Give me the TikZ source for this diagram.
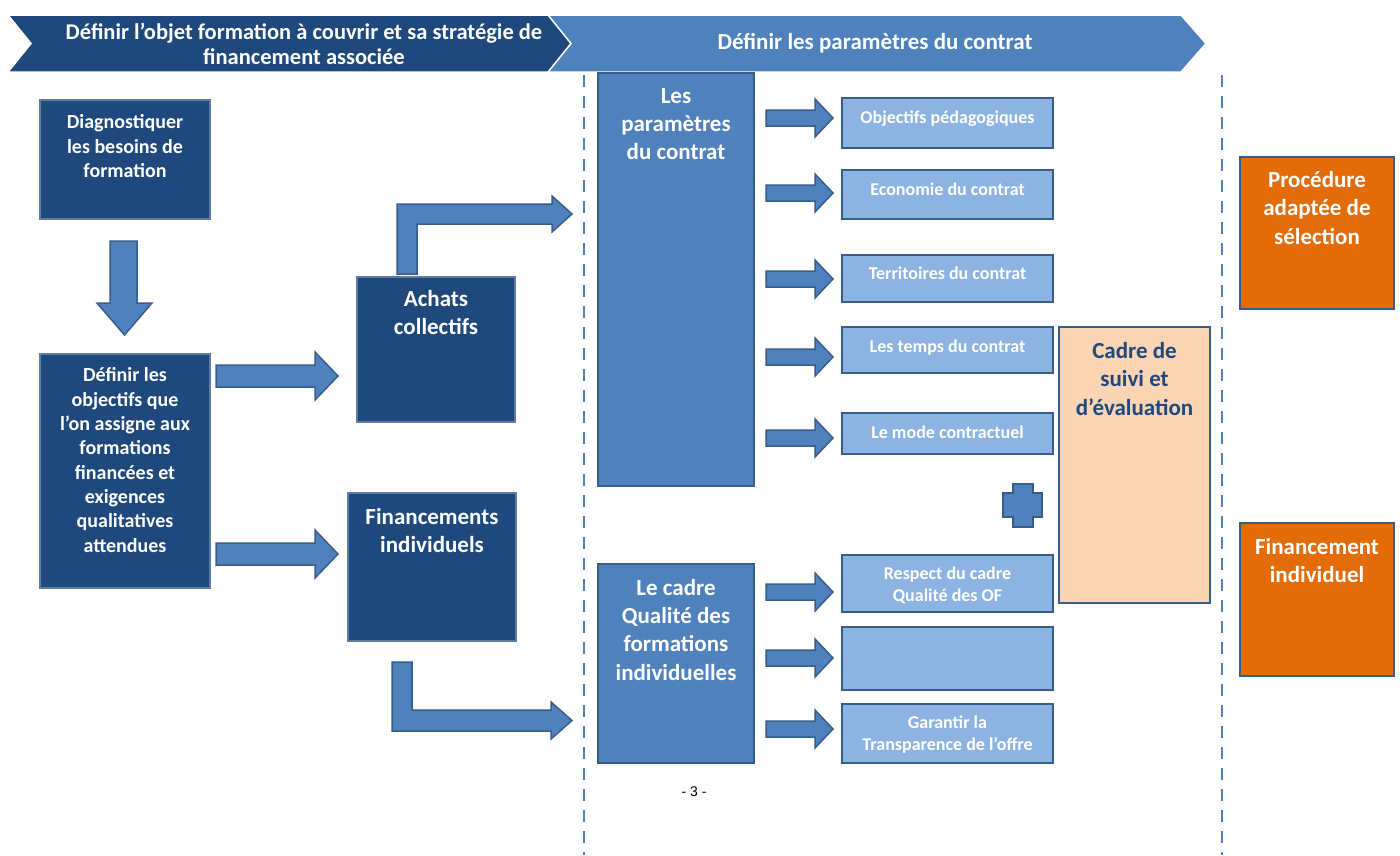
\documentclass[tikz,border=0pt]{standalone}
\usepackage{fontspec}
\setmainfont{Carlito}
\newfontfamily\arialf{Liberation Sans}
\definecolor{navy}{HTML}{1F497D}
\definecolor{midblue}{HTML}{4F81BD}
\definecolor{lightblue}{HTML}{8DB3E2}
\definecolor{edgeblue}{HTML}{385D8A}
\definecolor{orangebox}{HTML}{E36C09}
\definecolor{peach}{HTML}{FBD4B4}
\newcommand\fz[2]{\fontsize{#1pt}{#2pt}\selectfont\bfseries}
\newcommand\bt[4]{\parbox[c][#2pt][t]{#1pt}{\centering\vspace*{#3pt}\strut #4\par}}
\newcommand\harrow[6]{\draw[blockarrow] (#1,#4-#5) -- (#2,#4-#5) -- (#2,#4-#6) -- (#3,#4) -- (#2,#4+#6) -- (#2,#4+#5) -- (#1,#4+#5) -- cycle;}
\tikzset{
  box/.style={inner sep=0pt, outer sep=0pt, line width=2pt, draw=edgeblue, anchor=north west},
  navybox/.style={box, fill=navy, text=white, draw=edgeblue!80!white},
  midbox/.style={box, fill=midblue, text=white},
  lightbox/.style={box, fill=lightblue, text=white, font=\fz{18}{22}},
  orangeb/.style={box, fill=orangebox, text=white, font=\fz{23}{28.5}},
  blockarrow/.style={fill=midblue, draw=edgeblue, line width=1.5pt, line join=miter},
  sep/.style={draw=midblue, line width=2.6pt, dash pattern=on 12pt off 9pt},
  banner/.style={line width=1.5pt, draw=white}
}
\begin{document}
\begin{tikzpicture}[x=1pt,y=-1pt]
\useasboundingbox (0,0) rectangle (1400,855);
% banners
\draw[banner, fill=midblue] (541,15) -- (1181,15) -- (1206,43.5) -- (1181,72) -- (541,72) -- (564,43.5) -- cycle;
\draw[banner, fill=navy] (8,15) -- (548,15) -- (571,43.5) -- (548,72) -- (8,72) -- (31,43.5) -- cycle;
\node[font=\fz{22.5}{25}, text=white, align=center] (h1) at (304,43.5) {Définir l{\char"0027}objet formation à couvrir et sa stratégie de\\financement associée};
\node[font=\fz{23}{25}, text=white] (h2) at (875,43.5) {Définir les paramètres du contrat};
% separators
\coordinate (s1a) at (584,75); \coordinate (s1b) at (584,855);
\coordinate (s2a) at (1222,75); \coordinate (s2b) at (1222,855);
\draw[sep] (s1a) -- (s1b);
\draw[sep] (s2a) -- (s2b);
% left column
\node[navybox, font=\fz{20}{24.4}] (diag) at (40,100) {\bt{170}{119}{11.9}{Diagnostiquer\\les besoins de\\formation}};
\node[navybox, font=\fz{20}{24.3}] (def) at (40,354) {\bt{170}{234}{10.9}{Définir les\\objectifs que\\l’on assigne aux\\formations\\financées et\\exigences\\qualitatives\\attendues}};
\draw[blockarrow] (110,241) -- (137,241) -- (137,303) -- (152,303) -- (124.5,335) -- (97,303) -- (110,303) -- cycle;
\harrow{216}{315}{338}{376}{11}{24}
\harrow{216}{315}{338}{554}{11}{24}
% second column
\node[navybox, font=\fz{23}{28}] (achats) at (357,277) {\bt{158}{145}{10.3}{Achats\\collectifs}};
\node[navybox, font=\fz{23}{28}] (fin) at (348,493) {\bt{168}{148}{12.3}{Financements\\individuels}};
\draw[blockarrow] (397,274) -- (397,204) -- (552,204) -- (552,196) -- (572,214) -- (552,232) -- (552,224) -- (417,224) -- (417,274) -- cycle;
\draw[blockarrow] (392,662) -- (412,662) -- (412,710) -- (551,710) -- (551,702) -- (572,720.5) -- (551,739) -- (551,731) -- (392,731) -- cycle;
% middle column
\node[midbox, font=\fz{23}{28}] (param) at (598,73) {\bt{156}{413}{11.3}{Les\\paramètres\\du contrat}};
\node[midbox, font=\fz{23}{28.3}] (qual) at (598,564) {\bt{156}{199}{11.3}{Le cadre\\Qualité des\\formations\\individuelles}};
\harrow{766}{815}{833}{118}{8}{19}
\harrow{766}{815}{833}{193}{8}{19}
\harrow{766}{815}{833}{279}{8}{19}
\harrow{766}{815}{833}{357}{8}{19}
\harrow{766}{815}{833}{438}{8}{19}
\harrow{766}{815}{833}{592}{8}{19}
\harrow{766}{815}{833}{658}{8}{19}
\harrow{766}{815}{833}{729}{8}{19}
\node[lightbox] (obj) at (842,98) {\bt{211}{50}{10}{Objectifs pédagogiques}};
\node[lightbox] (eco) at (842,170) {\bt{211}{49}{10}{Economie du contrat}};
\node[lightbox] (terr) at (842,255) {\bt{211}{47}{9}{Territoires du contrat}};
\node[lightbox] (temps) at (842,327) {\bt{211}{46}{10}{Les temps du contrat}};
\node[lightbox] (mode) at (842,413) {\bt{211}{41}{10}{Le mode contractuel}};
\node[lightbox] (resp) at (842,555) {\bt{211}{57}{9}{Respect du cadre\\Qualité des OF}};
\node[lightbox] (empty) at (842,627) {\bt{211}{63}{9}{}};
\node[lightbox] (transp) at (842,704) {\bt{211}{59}{9}{Garantir la\\Transparence de l’offre}};
% plus sign
\draw[blockarrow] (1013,484) -- (1033,484) -- (1033,493) -- (1042,493) -- (1042,517) -- (1033,517) -- (1033,527) -- (1013,527) -- (1013,517) -- (1003,517) -- (1003,493) -- (1013,493) -- cycle;
% cadre de suivi
\node[box, fill=peach, text=navy, font=\fz{23}{28.5}] (suivi) at (1059,327) {\bt{151}{276}{11.3}{Cadre de\\suivi et\\d’évaluation}};
% right column
\node[orangeb] (proc) at (1240,157) {\bt{154}{152}{10.3}{Procédure\\adaptée de\\sélection}};
\node[orangeb] (findiv) at (1240,523) {\bt{154}{153}{11.3}{Financement\\individuel}};
% page number
\node[font=\arialf\fontsize{14pt}{16pt}\selectfont] (page) at (694,792) {- 3 -};
\end{tikzpicture}
\end{document}
